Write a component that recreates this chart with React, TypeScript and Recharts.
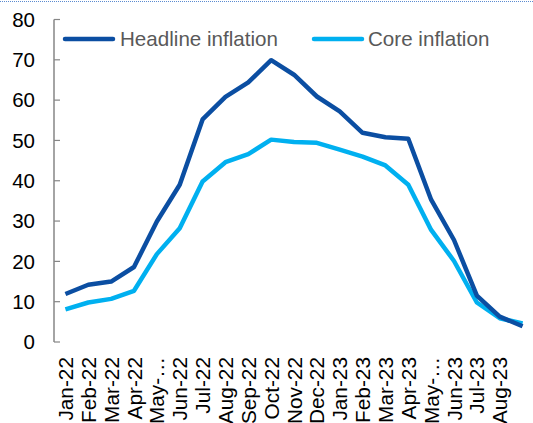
import { LineChart, Line, XAxis, YAxis, Legend } from "recharts";

const months = [
  "Jan-22", "Feb-22", "Mar-22", "Apr-22", "May-22", "Jun-22", "Jul-22",
  "Aug-22", "Sep-22", "Oct-22", "Nov-22", "Dec-22", "Jan-23", "Feb-23",
  "Mar-23", "Apr-23", "May-23", "Jun-23", "Jul-23", "Aug-23", "Sep-23",
];
const headline = [
  11.9, 14.2, 15.0, 18.6, 29.9, 39.0, 55.2, 60.8, 64.4, 69.9, 66.3,
  60.9, 57.2, 51.9, 50.8, 50.4, 35.3, 25.3, 11.5, 6.3, 3.9,
];
const core = [
  8.1, 9.8, 10.7, 12.7, 21.8, 28.2, 39.8, 44.6, 46.6, 50.2, 49.6,
  49.4, 47.7, 46.0, 43.8, 39.0, 27.8, 20.1, 9.8, 5.9, 4.6,
];
const yTicks = [0, 10, 20, 30, 40, 50, 60, 70, 80];

const HEADLINE_COLOR = "#0B4EA2";
const CORE_COLOR = "#00B0F0";
const AXIS_COLOR = "#868686";
const FONT = "'Liberation Sans', Arial, sans-serif";

// each month sits in the middle of its band, band edges carry the tick marks
const data = months.map((m, i) => ({
  pos: i + 0.5,
  month: m,
  headline: headline[i],
  core: core[i],
}));
const bandEdges = months.map((_, i) => i).concat(months.length);
// last month has no room for its label
const labelTicks = months.slice(0, months.length - 1).map((_, i) => i + 0.5);

function shortLabel(m: string) {
  return m.startsWith("May") ? "May-\u2026" : m;
}

function MonthTick({ x, y, payload }: any) {
  const m = months[Math.floor(payload.value)];
  const ty = y + 15;
  return (
    <text
      x={x}
      y={ty}
      transform={`rotate(-90, ${x}, ${ty})`}
      textAnchor="end"
      dominantBaseline="central"
      fontSize={20.8}
      fontFamily={FONT}
      fill="#000"
    >
      {shortLabel(m)}
    </text>
  );
}

function LegendSample({ color }: { color: string }) {
  return (
    <svg width={56} height={10} style={{ display: "block" }}>
      <line x1={4} y1={5} x2={52} y2={5} stroke={color} strokeWidth={4.5} strokeLinecap="round" />
    </svg>
  );
}

function ChartLegend() {
  return (
    <div
      style={{
        display: "flex",
        alignItems: "center",
        fontFamily: FONT,
        fontSize: 20.6,
        color: "#595959",
        lineHeight: "23px",
        whiteSpace: "nowrap",
      }}
    >
      <LegendSample color={HEADLINE_COLOR} />
      <span style={{ marginLeft: 3 }}>Headline inflation</span>
      <span style={{ marginLeft: 32 }}>
        <LegendSample color={CORE_COLOR} />
      </span>
      <span style={{ marginLeft: 2 }}>Core inflation</span>
    </div>
  );
}

export default function App() {
  return (
    <div
      style={{
        position: "absolute",
        left: 0,
        top: 0,
        width: 533,
        height: 423,
        overflow: "hidden",
        background: "#fff",
      }}
    >
      <div
        style={{
          position: "absolute",
          left: 0,
          top: 1,
          width: 533,
          height: 0,
          borderTop: "1.5px dotted #5B8BD0",
        }}
      />
      <LineChart
        width={534}
        height={423}
        data={data}
        margin={{ top: 19.5, right: 0, left: 0, bottom: 0 }}
      >
        <XAxis
          xAxisId="grid"
          type="number"
          dataKey="pos"
          domain={[0, 21]}
          ticks={bandEdges}
          tick={false}
          tickSize={-5}
          height={0}
          axisLine={{ stroke: AXIS_COLOR, strokeWidth: 1.5 }}
          tickLine={{ stroke: AXIS_COLOR, strokeWidth: 1.2 }}
        />
        <XAxis
          xAxisId="labels"
          type="number"
          dataKey="pos"
          domain={[0, 21]}
          ticks={labelTicks}
          axisLine={false}
          tickLine={false}
          tickSize={0}
          tickMargin={0}
          height={81}
          interval={0}
          tick={<MonthTick />}
        />
        <YAxis
          type="number"
          domain={[0, 80]}
          ticks={yTicks}
          width={54}
          tickSize={-6}
          tickMargin={25}
          axisLine={{ stroke: AXIS_COLOR, strokeWidth: 1.5 }}
          tickLine={{ stroke: AXIS_COLOR, strokeWidth: 1.2 }}
          tick={{ fill: "#000", fontSize: 20.5, fontFamily: FONT }}
          interval={0}
        />
        <Legend
          layout="horizontal"
          verticalAlign="middle"
          align="center"
          content={() => <ChartLegend />}
          wrapperStyle={{ top: 27, left: 61, width: "auto", height: "auto" }}
        />
        <Line
          xAxisId="grid"
          type="linear"
          dataKey="core"
          name="Core inflation"
          stroke={CORE_COLOR}
          strokeWidth={4.5}
          strokeLinejoin="round"
          dot={false}
          activeDot={false}
          isAnimationActive={false}
        />
        <Line
          xAxisId="grid"
          type="linear"
          dataKey="headline"
          name="Headline inflation"
          stroke={HEADLINE_COLOR}
          strokeWidth={4.5}
          strokeLinejoin="round"
          dot={false}
          activeDot={false}
          isAnimationActive={false}
        />
      </LineChart>
    </div>
  );
}
